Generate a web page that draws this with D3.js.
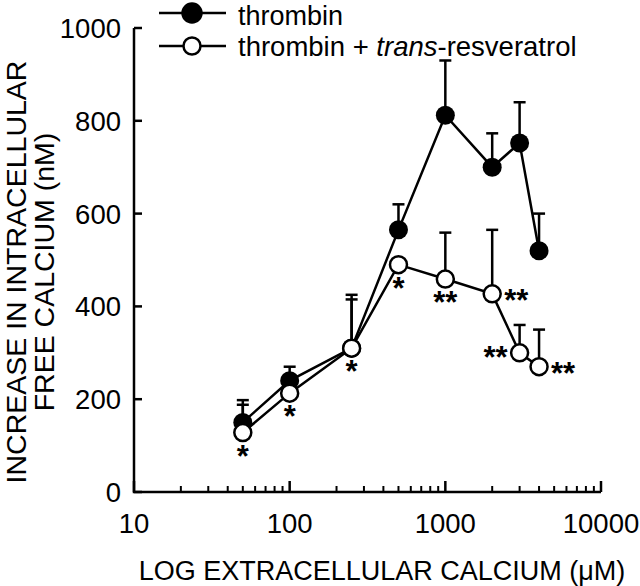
<!DOCTYPE html>
<html><head><meta charset="utf-8">
<script src="https://cdn.jsdelivr.net/npm/d3@7"></script>
<style>body{margin:0;background:#fff}text{font-family:"Liberation Sans",Arial,sans-serif;fill:#000}</style>
</head><body><svg id="c" width="640" height="586"></svg>
<script>
const conc = [50, 100, 250, 500, 1000, 2000, 3000, 4000];
const thrombin = [150, 240, 310, 565, 812, 700, 752, 520];
const thrombinErr = [48, 30, 115, 55, 118, 73, 88, 80];
const resv = [128, 213, 310, 490, 459, 427, 300, 270];
const resvErr = [60, 35, 105, 0, 100, 138, 60, 80];
const sigLabels = ["*", "*", "*", "*", "**", "**", "**", "**"];
const sigSide = ["below", "below", "below", "below", "below", "right", "left", "right"];
const xTicks = [10, 100, 1000, 10000];
const yTicks = [0, 200, 400, 600, 800, 1000];
const seriesNames = ["thrombin", "thrombin + ", "trans", "-resveratrol"];

const svg = d3.select("#c");
const x = d3.scaleLog().domain([10, 10000]).range([134, 601]);
const y = d3.scaleLinear().domain([0, 1000]).range([492, 28]);

// axes
const ax = svg.append("g").attr("stroke", "#000").attr("stroke-width", 2.5).attr("fill", "none");
ax.append("path").attr("d", `M${x(10)},${y(1000)}V${y(0)}H${x(10000)}`);
yTicks.forEach(v => ax.append("line").attr("x1", x(10)).attr("x2", x(10) + 8).attr("y1", y(v)).attr("y2", y(v)));
const minor = [];
for (let d = 10; d < 10000; d *= 10) for (let k = 2; k <= 9; k++) minor.push(k * d);
minor.forEach(v => ax.append("line").attr("x1", x(v)).attr("x2", x(v)).attr("y1", y(0)).attr("y2", y(0) - 6).attr("stroke-width", 2));
xTicks.forEach(v => ax.append("line").attr("x1", x(v)).attr("x2", x(v)).attr("y1", y(0)).attr("y2", y(0) - 11));

yTicks.forEach(v => svg.append("text").attr("x", 121).attr("y", y(v) + 10).attr("text-anchor", "end").attr("font-size", 27.5).text(v));
xTicks.forEach(v => svg.append("text").attr("x", x(v)).attr("y", 533).attr("text-anchor", "middle").attr("font-size", 27.5).text(v));
svg.append("text").attr("x", 382).attr("y", 580).attr("text-anchor", "middle").attr("font-size", 27).text("LOG EXTRACELLULAR CALCIUM (μM)");
const yt = svg.append("text").attr("transform", "translate(0,272) rotate(-90)").attr("text-anchor", "middle").attr("font-size", 28.5);
yt.append("tspan").attr("x", 0).attr("y", 26).text("INCREASE IN INTRACELLULAR");
yt.append("tspan").attr("x", 0).attr("y", 54).text("FREE CALCIUM (nM)");

const line = d3.line().x(d => x(d[0])).y(d => y(d[1]));
const r = 8.5;
function drawErr(vals, errs) {
  conc.forEach((c, i) => {
    if (!errs[i]) return;
    const g = svg.append("g").attr("stroke", "#000").attr("stroke-width", 2.5);
    g.append("line").attr("x1", x(c)).attr("x2", x(c)).attr("y1", y(vals[i])).attr("y2", y(vals[i] + errs[i]));
    g.append("line").attr("x1", x(c) - 6).attr("x2", x(c) + 6).attr("y1", y(vals[i] + errs[i])).attr("y2", y(vals[i] + errs[i]));
  });
}
drawErr(thrombin, thrombinErr);
drawErr(resv, resvErr);
svg.append("path").attr("d", line(conc.map((c, i) => [c, thrombin[i]]))).attr("fill", "none").attr("stroke", "#000").attr("stroke-width", 2.5);
svg.append("path").attr("d", line(conc.map((c, i) => [c, resv[i]]))).attr("fill", "none").attr("stroke", "#000").attr("stroke-width", 2.5);
conc.forEach((c, i) => svg.append("circle").attr("cx", x(c)).attr("cy", y(thrombin[i])).attr("r", r + 1).attr("fill", "#000"));
conc.forEach((c, i) => svg.append("circle").attr("cx", x(c)).attr("cy", y(resv[i])).attr("r", r).attr("fill", "#fff").attr("stroke", "#000").attr("stroke-width", 2.5));

// significance marks
conc.forEach((c, i) => {
  let dx = 0, dy = 34, anchor = "middle";
  if (sigSide[i] === "right") { dx = 12; dy = 17; anchor = "start"; }
  if (sigSide[i] === "left") { dx = -12; dy = 15; anchor = "end"; }
  svg.append("text").attr("x", x(c) + dx).attr("y", y(resv[i]) + dy).attr("text-anchor", anchor)
    .attr("font-size", 31).attr("font-weight", "bold").text(sigLabels[i]);
});

// legend
const lg = svg.append("g");
[[13, true], [46, false]].forEach(([ly, filled]) => {
  lg.append("line").attr("x1", 159).attr("x2", 226).attr("y1", ly).attr("y2", ly).attr("stroke", "#000").attr("stroke-width", 2.5);
  lg.append("circle").attr("cx", 192).attr("cy", ly).attr("r", filled ? r + 1 : r).attr("fill", filled ? "#000" : "#fff").attr("stroke", "#000").attr("stroke-width", 2.5);
});
lg.append("text").attr("x", 238).attr("y", 25).attr("font-size", 27).text(seriesNames[0]);
const t2 = lg.append("text").attr("x", 238).attr("y", 56).attr("font-size", 27.5);
t2.append("tspan").text(seriesNames[1]);
t2.append("tspan").attr("font-style", "italic").text(seriesNames[2]);
t2.append("tspan").text(seriesNames[3]);
</script></body></html>
